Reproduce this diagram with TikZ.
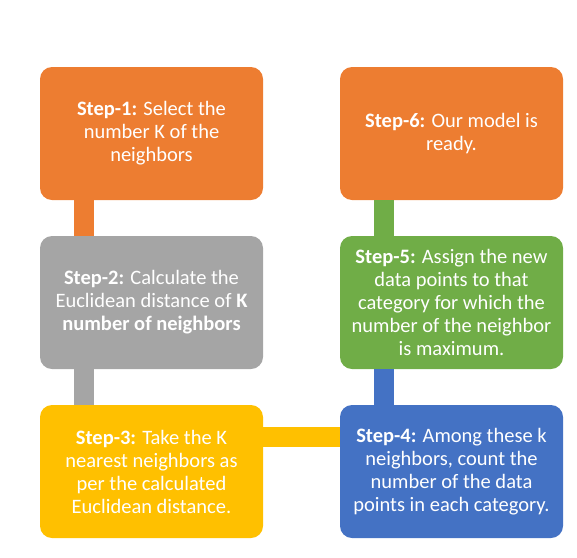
\documentclass[tikz,border=0pt]{standalone}
\usepackage{xcolor}
\usepackage{tikz}
\usepackage{fontspec}
\setmainfont{Carlito}

\definecolor{stepOrange}{HTML}{ED7D31}
\definecolor{stepGray}{HTML}{A5A5A5}
\definecolor{stepYellow}{HTML}{FFC000}
\definecolor{stepBlue}{HTML}{4472C4}
\definecolor{stepGreen}{HTML}{70AD47}

\begin{document}
\begin{tikzpicture}[x=1pt, y=1pt,
    stepbox/.style={rectangle, rounded corners=12pt, minimum width=223pt,
        minimum height=133pt, inner sep=0pt, align=center, text=white,
        font=\fontsize{20.5}{23}\selectfont},
    link/.style={line width=20pt}]
            \useasboundingbox (0,0) rectangle (577,-557);

            \node [stepbox, fill=stepOrange] (s1) at (151.5,-133.5) {\textbf{Step-1:} Select the\\number K of the\\neighbors};
            \node [stepbox, fill=stepGray] (s2) at (151.5,-302.5) {\textbf{Step-2:} Calculate the\\Euclidean distance of \textbf{K}\\\textbf{number of neighbors}};
            \node [stepbox, fill=stepYellow] (s3) at (151.5,-471.5) {\textbf{Step-3:} Take the K\\nearest neighbors as\\per the calculated\\Euclidean distance.};
            \node [stepbox, fill=stepBlue] (s4) at (451.5,-471.5) {\textbf{Step-4:} Among these k\\neighbors, count the\\number of the data\\points in each category.};
            \node [stepbox, fill=stepGreen] (s5) at (451.5,-302.5) {\textbf{Step-5:} Assign the new\\data points to that\\category for which the\\number of the neighbor\\is maximum.};
            \node [stepbox, fill=stepOrange] (s6) at (451.5,-133.5) {\textbf{Step-6:} Our model is\\ready.};

            % connecting bars
            \draw [link, stepOrange] ([xshift=44.5pt]s1.south west) -- ([xshift=44.5pt]s2.north west);
            \draw [link, stepGray] ([xshift=44.5pt]s2.south west) -- ([xshift=44.5pt]s3.north west);
            \draw [link, stepYellow] ([yshift=-32.5pt]s3.north east) -- ([yshift=-32.5pt]s4.north west);
            \draw [link, stepBlue] ([xshift=44.5pt]s4.north west) -- ([xshift=44.5pt]s5.south west);
            \draw [link, stepGreen] ([xshift=44.5pt]s5.north west) -- ([xshift=44.5pt]s6.south west);

        \end{tikzpicture}
\end{document}
